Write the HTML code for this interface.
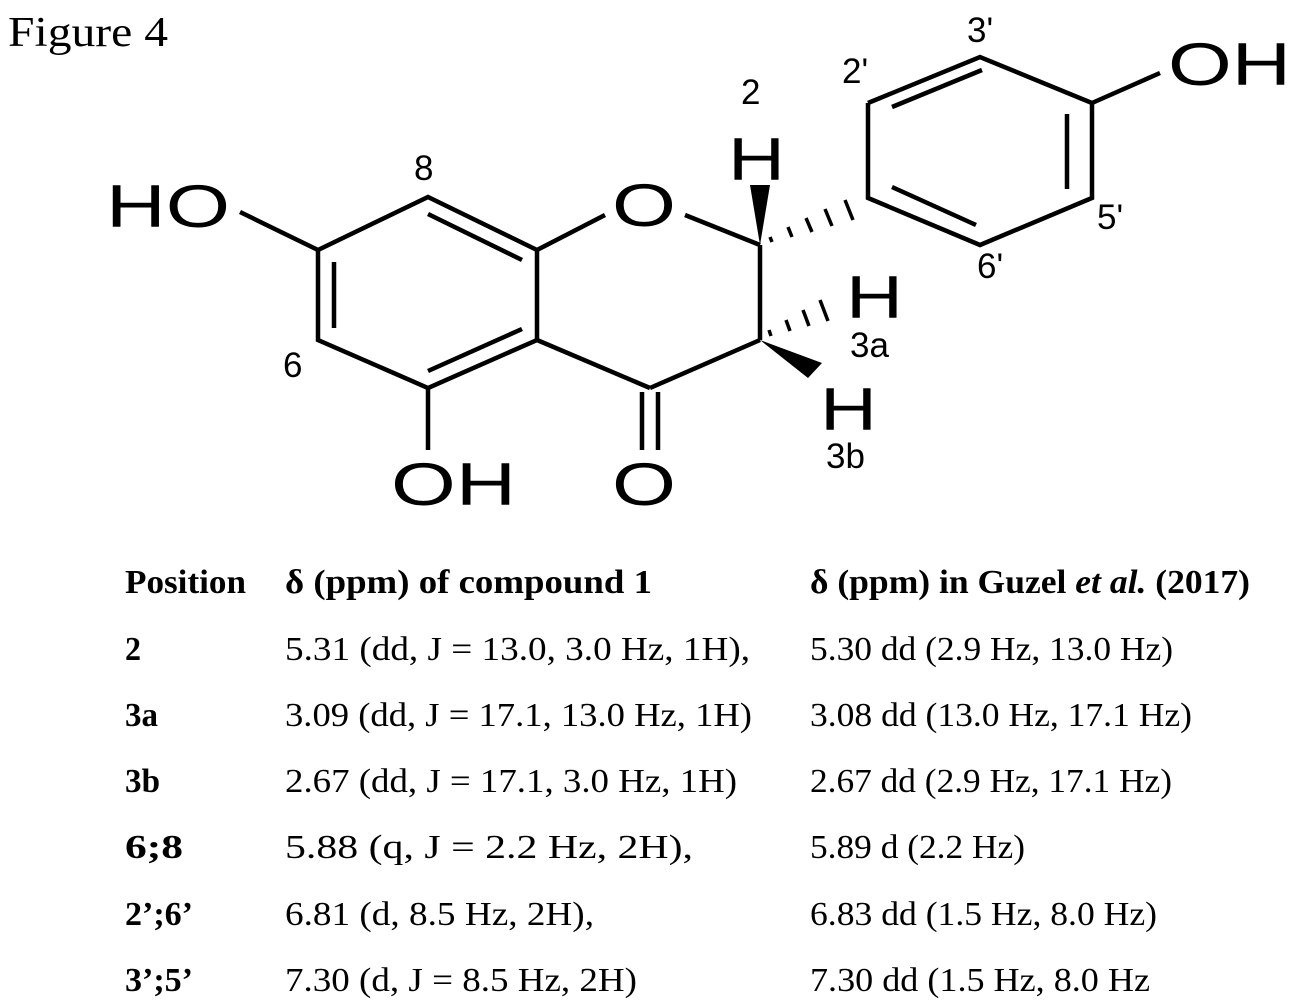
<!DOCTYPE html>
<html><head><meta charset="utf-8"><style>
html,body{margin:0;padding:0;background:#fff;}
svg{display:block;}
.s{font-family:"Liberation Sans",sans-serif;fill:#000;}
.t{font-family:"Liberation Serif",serif;fill:#000;font-size:34px;}
.b{font-weight:bold;}
</style></head><body>
<svg width="1299" height="1002" viewBox="0 0 1299 1002" xmlns="http://www.w3.org/2000/svg">
<text x="8" y="46" class="t" style="font-size:42px" textLength="160" lengthAdjust="spacingAndGlyphs">Figure 4</text>
<g stroke="#000" stroke-width="4.5" fill="none" stroke-linecap="butt">
<polyline points="318,250 428,197 537,250 537,340 428,388 318,340 318,250"/>
<line x1="428" y1="214" x2="522" y2="260"/>
<line x1="334" y1="262" x2="334" y2="328"/>
<line x1="428" y1="371" x2="522" y2="329"/>
<line x1="318" y1="250" x2="240" y2="212"/>
<line x1="428" y1="388" x2="428" y2="450"/>
<line x1="537" y1="250" x2="605" y2="215"/>
<line x1="685" y1="215" x2="760" y2="245"/>
<line x1="760" y1="245" x2="760" y2="340"/>
<line x1="760" y1="340" x2="650" y2="388"/>
<line x1="650" y1="388" x2="537" y2="340"/>
<line x1="642" y1="392" x2="642" y2="450"/>
<line x1="658" y1="392" x2="658" y2="450"/>
<polyline points="868,103 980,57 1092,103 1092,198 980,245 868,198 868,103"/>
<line x1="892" y1="107" x2="982" y2="70"/>
<line x1="1067" y1="114" x2="1067" y2="189"/>
<line x1="892" y1="187" x2="976" y2="225"/>
<line x1="1092" y1="103" x2="1160" y2="73"/>
</g>
<polygon points="760,245 750,185 770,185" fill="#000"/>
<polygon points="760,340 822,363 808,378" fill="#000"/>
<g stroke="#000" stroke-width="3.5">
<line x1="770" y1="237" x2="772" y2="242"/>
<line x1="788" y1="227" x2="792" y2="237"/>
<line x1="806" y1="218" x2="812" y2="232"/>
<line x1="825" y1="209" x2="832" y2="226"/>
<line x1="845" y1="200" x2="853" y2="220"/>
<line x1="769" y1="330" x2="771" y2="336"/>
<line x1="786" y1="320" x2="790" y2="331"/>
<line x1="803" y1="310" x2="809" y2="326"/>
<line x1="820" y1="300" x2="828" y2="321"/>
</g>
<g class="s" style="font-size:60px">
<text x="106" y="227" textLength="124" lengthAdjust="spacingAndGlyphs">HO</text>
<text x="612" y="226" textLength="64" lengthAdjust="spacingAndGlyphs">O</text>
<text x="728" y="180" textLength="57" lengthAdjust="spacingAndGlyphs">H</text>
<text x="846" y="318" textLength="57" lengthAdjust="spacingAndGlyphs">H</text>
<text x="820" y="430" textLength="57" lengthAdjust="spacingAndGlyphs">H</text>
<text x="391" y="505" textLength="125" lengthAdjust="spacingAndGlyphs">OH</text>
<text x="612" y="505" textLength="64" lengthAdjust="spacingAndGlyphs">O</text>
<text x="1168" y="85" textLength="123" lengthAdjust="spacingAndGlyphs">OH</text>
</g>
<g class="s" style="font-size:35px">
<text x="414" y="180">8</text>
<text x="741" y="104">2</text>
<text x="283" y="377">6</text>
<text x="850" y="357">3a</text>
<text x="826" y="468">3b</text>
<text x="842" y="83">2'</text>
<text x="967" y="42">3'</text>
<text x="1097" y="229">5'</text>
<text x="977" y="278">6'</text>
</g>
<g class="t">
<text x="125" y="593" class="b" textLength="121" lengthAdjust="spacingAndGlyphs">Position</text>
<text x="285" y="593" class="b" textLength="367" lengthAdjust="spacingAndGlyphs">δ (ppm) of compound 1</text>
<text x="810" y="593" class="b" textLength="440" lengthAdjust="spacingAndGlyphs">δ (ppm) in Guzel <tspan font-style="italic">et al.</tspan> (2017)</text>
<text x="125" y="660" class="b" textLength="16" lengthAdjust="spacingAndGlyphs">2</text>
<text x="285" y="660" textLength="465" lengthAdjust="spacingAndGlyphs">5.31 (dd, J = 13.0, 3.0 Hz, 1H),</text>
<text x="810" y="660" textLength="363" lengthAdjust="spacingAndGlyphs">5.30 dd (2.9 Hz, 13.0 Hz)</text>
<text x="125" y="726" class="b" textLength="33" lengthAdjust="spacingAndGlyphs">3a</text>
<text x="285" y="726" textLength="467" lengthAdjust="spacingAndGlyphs">3.09 (dd, J = 17.1, 13.0 Hz, 1H)</text>
<text x="810" y="726" textLength="382" lengthAdjust="spacingAndGlyphs">3.08 dd (13.0 Hz, 17.1 Hz)</text>
<text x="125" y="792" class="b" textLength="35" lengthAdjust="spacingAndGlyphs">3b</text>
<text x="285" y="792" textLength="452" lengthAdjust="spacingAndGlyphs">2.67 (dd, J = 17.1, 3.0 Hz, 1H)</text>
<text x="810" y="792" textLength="362" lengthAdjust="spacingAndGlyphs">2.67 dd (2.9 Hz, 17.1 Hz)</text>
<text x="125" y="858" class="b" textLength="58" lengthAdjust="spacingAndGlyphs">6;8</text>
<text x="285" y="858" textLength="408" lengthAdjust="spacingAndGlyphs">5.88 (q, J = 2.2 Hz, 2H),</text>
<text x="810" y="858" textLength="215" lengthAdjust="spacingAndGlyphs">5.89 d (2.2 Hz)</text>
<text x="125" y="925" class="b" textLength="68" lengthAdjust="spacingAndGlyphs">2’;6’</text>
<text x="285" y="925" textLength="309" lengthAdjust="spacingAndGlyphs">6.81 (d, 8.5 Hz, 2H),</text>
<text x="810" y="925" textLength="347" lengthAdjust="spacingAndGlyphs">6.83 dd (1.5 Hz, 8.0 Hz)</text>
<text x="125" y="991" class="b" textLength="68" lengthAdjust="spacingAndGlyphs">3’;5’</text>
<text x="285" y="991" textLength="352" lengthAdjust="spacingAndGlyphs">7.30 (d, J = 8.5 Hz, 2H)</text>
<text x="810" y="991" textLength="340" lengthAdjust="spacingAndGlyphs">7.30 dd (1.5 Hz, 8.0 Hz</text>
</g>
</svg>
</body></html>
